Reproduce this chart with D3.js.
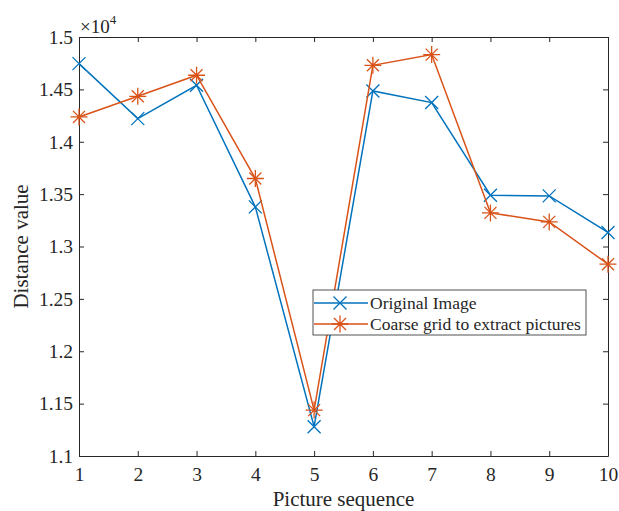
<!DOCTYPE html>
<html>
<head>
<meta charset="utf-8">
<script src="https://cdn.jsdelivr.net/npm/d3@7"></script>
<style>
body { margin: 0; background: #fff; }
text { font-family: "Liberation Serif", "Times New Roman", serif; fill: #262626; }
</style>
</head>
<body>
<div id="chart"></div>
<script>
// dữ liệu
const pictures = [1, 2, 3, 4, 5, 6, 7, 8, 9, 10];
const originalImage = [14746, 14221, 14539, 13378, 11280, 14485, 14374, 13490, 13483, 13134];
const coarseGrid = [14237, 14434, 14635, 13649, 11438, 14730, 14832, 13321, 13235, 12831];
const yTicks = [11000, 11500, 12000, 12500, 13000, 13500, 14000, 14500, 15000];
const seriesNames = ["Original Image", "Coarse grid to extract pictures"];

const W = 619, H = 511;
const margin = { top: 37, right: 11, bottom: 55, left: 79 },
    width = W - margin.left - margin.right,
    height = H - margin.top - margin.bottom;

const serif = '"Liberation Serif", "Times New Roman", serif';

const svg = d3.select("#chart").append("svg")
    .attr("width", W).attr("height", H)
    .append("g")
    .attr("transform", `translate(${margin.left},${margin.top})`);

const x = d3.scaleLinear().domain([1, 10]).range([0, width]);
const y = d3.scaleLinear().domain([11000, 15000]).range([height, 0]);

const axisColor = "#262626";

// khung + trục
function styleAxis(g) {
    g.attr("font-family", serif).attr("font-size", 19.5);
    g.select(".domain").attr("stroke", axisColor);
    g.selectAll(".tick line").attr("stroke", axisColor);
    g.selectAll(".tick text")
        .style("font-family", serif)
        .style("font-size", "19.5px")
        .attr("fill", axisColor);
}

svg.append("g")
    .attr("transform", `translate(0,${height})`)
    .call(d3.axisBottom(x).tickValues(pictures).tickSize(-5).tickPadding(11).tickSizeOuter(0))
    .call(styleAxis);

svg.append("g")
    .call(d3.axisLeft(y).tickValues(yTicks).tickSize(-5).tickPadding(6).tickSizeOuter(0)
        .tickFormat(d => d3.format("~g")(d / 10000)))
    .call(styleAxis);

svg.append("g")
    .call(d3.axisTop(x).tickValues(pictures).tickSize(-5).tickFormat("").tickSizeOuter(0))
    .call(styleAxis);

svg.append("g")
    .attr("transform", `translate(${width},0)`)
    .call(d3.axisRight(y).tickValues(yTicks).tickSize(-5).tickFormat("").tickSizeOuter(0))
    .call(styleAxis);

// ×10^4
const expo = svg.append("text").attr("x", 1).attr("y", -4)
    .style("font-family", serif).style("font-size", "19px");
expo.append("tspan").text("\u00d710");
expo.append("tspan").attr("dy", -9).style("font-size", "13px").text("4");

// nhãn trục
svg.append("text")
    .attr("x", width / 2).attr("y", height + 50)
    .attr("text-anchor", "middle")
    .style("font-size", "21px")
    .text("Picture sequence");

svg.append("text")
    .attr("transform", "rotate(-90)")
    .attr("x", -height / 2).attr("y", -51)
    .attr("text-anchor", "middle")
    .style("font-size", "21px")
    .text("Distance value");

const colors = ["#0072BD", "#D95319"];
const series = [originalImage, coarseGrid];

const line = d3.line().x((d, i) => x(pictures[i])).y(d => y(d));

function drawMarker(g, type, cx, cy, color) {
    const r = type === 0 ? 6.5 : 8.5;
    let path;
    if (type === 0) {
        path = `M${cx - r},${cy - r}L${cx + r},${cy + r}M${cx - r},${cy + r}L${cx + r},${cy - r}`;
    } else {
        const d = r * 0.707;
        path = `M${cx - r},${cy}L${cx + r},${cy}M${cx},${cy - r}L${cx},${cy + r}` +
            `M${cx - d},${cy - d}L${cx + d},${cy + d}M${cx - d},${cy + d}L${cx + d},${cy - d}`;
    }
    g.append("path").attr("d", path).attr("stroke", color).attr("stroke-width", 1.3).attr("fill", "none");
}

series.forEach((vals, s) => {
    svg.append("path")
        .datum(vals)
        .attr("d", line)
        .attr("fill", "none")
        .attr("stroke", colors[s])
        .attr("stroke-width", 1.5);
    const mg = svg.append("g");
    vals.forEach((v, i) => drawMarker(mg, s, x(pictures[i]), y(v), colors[s]));
});

// chú giải
const lg = svg.append("g").attr("transform", `translate(${313 - margin.left},${290 - margin.top})`);
lg.append("rect")
    .attr("width", 273).attr("height", 45)
    .attr("fill", "#fff").attr("stroke", axisColor).attr("stroke-width", 0.8);

seriesNames.forEach((name, i) => {
    const yy = 13 + i * 21;
    lg.append("line").attr("x1", 1).attr("x2", 55).attr("y1", yy).attr("y2", yy)
        .attr("stroke", colors[i]).attr("stroke-width", 1.5);
    drawMarker(lg, i, 27, yy, colors[i]);
    lg.append("text").attr("x", 57).attr("y", yy + 6).style("font-size", "17.5px").text(name);
});
</script>
</body>
</html>
